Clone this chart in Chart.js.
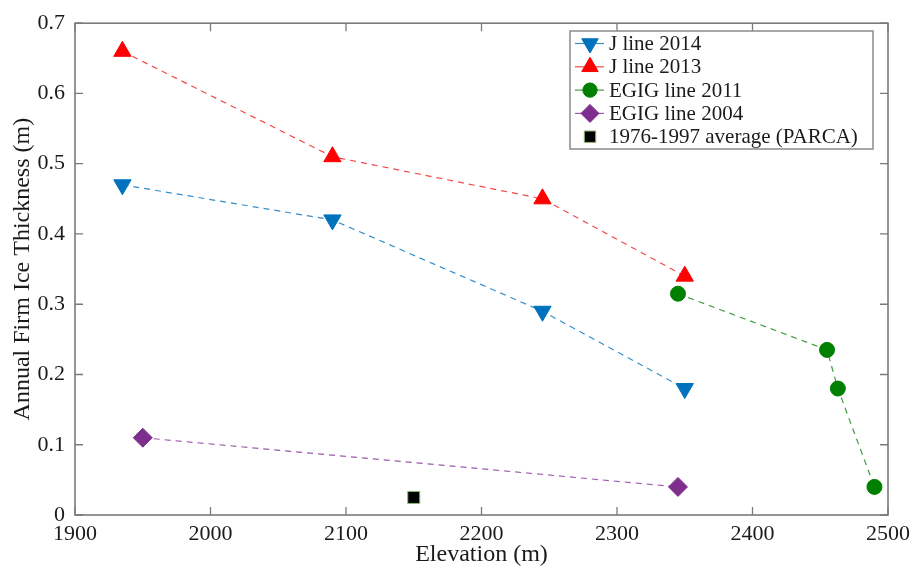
<!DOCTYPE html>
<html>
<head>
<meta charset="utf-8">
<script src="https://cdn.jsdelivr.net/npm/chart.js@4/dist/chart.umd.min.js"></script>
<style>
html,body{margin:0;padding:0;background:#fff;}
#wrap{width:916px;height:569px;position:relative;}
</style>
</head>
<body>
<div id="wrap"><canvas id="c" width="916" height="569"></canvas></div>
<script>
// ---- data ----
const xTicks = [1900, 2000, 2100, 2200, 2300, 2400, 2500];
const yTicks = [0, 0.1, 0.2, 0.3, 0.4, 0.5, 0.6, 0.7];
const yTickLabels = ['0', '0.1', '0.2', '0.3', '0.4', '0.5', '0.6', '0.7'];

const jLine2014Elev = [1935, 2090, 2245, 2350];
const jLine2014Thick = [0.47, 0.42, 0.29, 0.18];

const jLine2013Elev = [1935, 2090, 2245, 2350];
const jLine2013Thick = [0.66, 0.51, 0.45, 0.34];

const egig2011Elev = [2345, 2455, 2463, 2490];
const egig2011Thick = [0.315, 0.235, 0.18, 0.04];

const egig2004Elev = [1950, 2345];
const egig2004Thick = [0.11, 0.04];

const parcaElev = [2150];
const parcaThick = [0.025];

const seriesNames = ['J line 2014', 'J line 2013', 'EGIG line 2011', 'EGIG line 2004', '1976-1997 average (PARCA)'];

const toPts = (xs, ys) => xs.map((x, i) => ({x: x, y: ys[i]}));

const FONT = '"Liberation Serif", "Times New Roman", serif';

const datasets = [
  {label: seriesNames[0], data: toPts(jLine2014Elev, jLine2014Thick), borderColor: 'rgba(0,114,189,0.8)', backgroundColor: '#0072BD',
   pointBorderColor: '#0072BD', pointStyle: 'triangle', rotation: 180, pointRadius: 10, borderWidth: 1.2, borderDash: [6, 5], showLine: true},
  {label: seriesNames[1], data: toPts(jLine2013Elev, jLine2013Thick), borderColor: 'rgba(240,40,40,0.85)', backgroundColor: '#FF0000',
   pointBorderColor: '#FF0000', pointStyle: 'triangle', rotation: 0, pointRadius: 10, borderWidth: 1.2, borderDash: [6, 5], showLine: true},
  {label: seriesNames[2], data: toPts(egig2011Elev, egig2011Thick), borderColor: 'rgba(30,140,30,0.85)', backgroundColor: '#008000',
   pointBorderColor: '#008000', pointStyle: 'circle', pointRadius: 7.5, borderWidth: 1.2, borderDash: [6, 5], showLine: true},
  {label: seriesNames[3], data: toPts(egig2004Elev, egig2004Thick), borderColor: 'rgba(140,60,160,0.85)', backgroundColor: '#7E2F8E',
   pointBorderColor: '#7E2F8E', pointStyle: 'rectRot', pointRadius: 9.5, borderWidth: 1.2, borderDash: [6, 5], showLine: true},
  {label: seriesNames[4], data: toPts(parcaElev, parcaThick), borderColor: '#8fb870', backgroundColor: '#000000',
   pointBorderColor: '#8fb870', pointBorderWidth: 1, pointStyle: 'rect', pointRadius: 8.5, borderWidth: 1, showLine: false}
];
datasets.forEach(d => { d.pointBackgroundColor = d.backgroundColor; if (d.pointBorderWidth === undefined) d.pointBorderWidth = 1; d.pointHoverRadius = d.pointRadius; });

// frame with inward ticks + custom legend
const framePlugin = {
  id: 'frame',
  afterDatasetsDraw(chart) {
    const ctx = chart.ctx, a = chart.chartArea;
    const xs = chart.scales.x, ys = chart.scales.y;
    ctx.save();
    ctx.strokeStyle = '#7a7a7a';
    ctx.lineWidth = 1.6;
    ctx.strokeRect(a.left, a.top, a.right - a.left, a.bottom - a.top);
    ctx.lineWidth = 1.3;
    ctx.beginPath();
    const tl = 8;
    xTicks.forEach(v => {
      const p = xs.getPixelForValue(v);
      ctx.moveTo(p, a.bottom); ctx.lineTo(p, a.bottom - tl);
      ctx.moveTo(p, a.top); ctx.lineTo(p, a.top + tl);
    });
    yTicks.forEach(v => {
      const p = ys.getPixelForValue(v);
      ctx.moveTo(a.left, p); ctx.lineTo(a.left + tl, p);
      ctx.moveTo(a.right, p); ctx.lineTo(a.right - tl, p);
    });
    ctx.stroke();

    // legend
    const L = 570, T = 31, R = 873, B = 149;
    ctx.fillStyle = '#ffffff';
    ctx.fillRect(L, T, R - L, B - T);
    ctx.strokeStyle = '#8a8a8a';
    ctx.lineWidth = 1.5;
    ctx.strokeRect(L, T, R - L, B - T);
    ctx.font = '21px ' + FONT;
    ctx.textBaseline = 'middle';
    ctx.textAlign = 'left';
    chart.data.datasets.forEach((d, i) => {
      const y = 43.5 + i * 23.3;
      if (d.showLine) {
        ctx.strokeStyle = d.borderColor;
        ctx.lineWidth = 1.2;
        ctx.setLineDash([]);
        ctx.beginPath(); ctx.moveTo(575, y); ctx.lineTo(604, y); ctx.stroke();
      }
      ctx.fillStyle = d.backgroundColor;
      ctx.strokeStyle = d.pointBorderColor;
      ctx.lineWidth = d.pointBorderWidth;
      Chart.helpers.drawPoint(ctx, {pointStyle: d.pointStyle, rotation: d.rotation || 0, radius: d.pointRadius * 0.95, borderWidth: d.pointBorderWidth}, 590, y);
      ctx.fillStyle = '#1a1a1a';
      ctx.fillText(d.label, 609, y + 1);
    });
    ctx.restore();
  }
};

new Chart(document.getElementById('c'), {
  type: 'scatter',
  data: {datasets: datasets},
  plugins: [framePlugin],
  options: {
    responsive: false,
    animation: false,
    devicePixelRatio: 1,
    layout: {padding: {left: 0, top: 16, right: 26, bottom: 0}},
    plugins: {legend: {display: false}, tooltip: {enabled: false}},
    scales: {
      x: {
        type: 'linear', min: 1900, max: 2500,
        afterBuildTicks: s => { s.ticks = xTicks.map(v => ({value: v})); },
        afterFit: s => { s.height = 54; },
        grid: {display: false, drawTicks: false},
        border: {display: false},
        ticks: {color: '#1a1a1a', font: {family: FONT, size: 22}, padding: 6, maxRotation: 0, autoSkip: false,
                callback: v => String(v)},
        title: {display: true, text: 'Elevation (m)', color: '#1a1a1a', font: {family: FONT, size: 24}, padding: {top: 0, bottom: 0}}
      },
      y: {
        type: 'linear', min: 0, max: 0.7,
        afterBuildTicks: s => { s.ticks = yTicks.map(v => ({value: v})); },
        afterFit: s => { s.width = 75; },
        grid: {display: false, drawTicks: false},
        border: {display: false},
        ticks: {color: '#1a1a1a', font: {family: FONT, size: 22}, padding: 10, autoSkip: false,
                callback: (v) => { const i = yTicks.findIndex(t => Math.abs(t - v) < 1e-9); return i >= 0 ? yTickLabels[i] : ''; }},
        title: {display: true, text: 'Annual Firm Ice Thickness (m)', color: '#1a1a1a', font: {family: FONT, size: 24}, padding: {top: 8, bottom: 0}}
      }
    }
  }
});
</script>
</body>
</html>
